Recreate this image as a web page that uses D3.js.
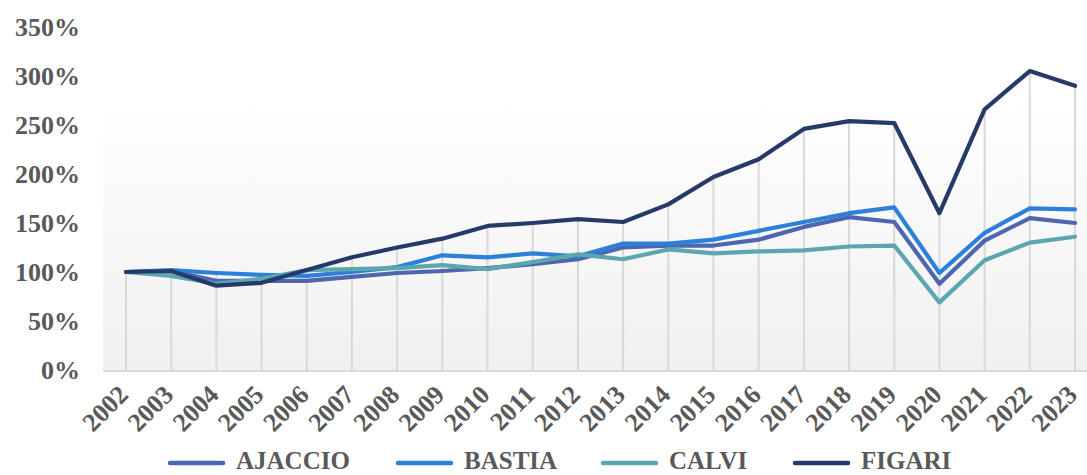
<!DOCTYPE html>
<html><head><meta charset="utf-8">
<script src="https://cdn.jsdelivr.net/npm/d3@7"></script>
<style>body{margin:0;background:#fff;}svg{display:block;}</style>
</head><body><svg id="c" width="1087" height="475"></svg>
<script>
const years = ["2002","2003","2004","2005","2006","2007","2008","2009","2010","2011","2012","2013","2014","2015","2016","2017","2018","2019","2020","2021","2022","2023"];
const ajaccio = [100,101,91,91,91,95,99,101,104,108,113,125,127,127,133,146,156,151,88,132,155,150];
const bastia  = [100,102,99,97,96,100,105,117,115,119,116,129,129,133,142,151,160,166,99,140,165,164];
const calvi   = [100,96,88,93,102,103,104,107,103,110,118,113,123,119,121,122,126,127,69,112,130,136];
const figari  = [100,101,86,89,102,115,125,134,147,150,154,151,169,197,215,246,254,252,160,266,305,290];
const yTicks = [0,50,100,150,200,250,300,350];
const seriesNames = ["AJACCIO","BASTIA","CALVI","FIGARI"];
const seriesColors = ["#4E66B0","#2B80D9","#5BA6AF","#263A6A"];
const series = [ajaccio, bastia, calvi, figari];

const svg = d3.select("#c");
const x = d3.scalePoint().domain(years).range([126, 1075]);
const y = d3.scaleLinear().domain([0,350]).range([370, 27]);
const font = "'Liberation Serif','Times New Roman',serif";
const txt = "#595959";

const defs = svg.append("defs");
const grad = defs.append("linearGradient").attr("id","bg").attr("x1",0).attr("y1",0).attr("x2",0).attr("y2",1);
grad.append("stop").attr("offset","0%").attr("stop-color","#ffffff");
grad.append("stop").attr("offset","100%").attr("stop-color","#f0f0f0");
svg.append("rect").attr("x",103).attr("y",100).attr("width",984).attr("height",270).attr("fill","url(#bg)");

// drop lines
years.forEach((yr,i)=>{
  const mx = d3.max(series, s=>s[i]);
  svg.append("line").attr("x1",x(yr)).attr("x2",x(yr)).attr("y1",y(mx)).attr("y2",y(0))
    .attr("stroke","#d9d9d9").attr("stroke-width",2);
});
// axis line
svg.append("line").attr("x1",103).attr("x2",1087).attr("y1",y(0)+1).attr("y2",y(0)+1).attr("stroke","#d9d9d9").attr("stroke-width",2);

// y labels
const ya = svg.append("g").attr("transform","translate(80,0)").call(d3.axisLeft(y).tickValues(yTicks).tickFormat(d=>d+"%").tickSize(0).tickPadding(0));
ya.select(".domain").remove();
ya.selectAll("text").attr("font-family",font).attr("font-weight","bold").attr("font-size","26px").attr("fill",txt);

// x labels
const xa = svg.append("g").attr("transform",`translate(0,${y(0)})`).call(d3.axisBottom(x).tickSize(0).tickPadding(0));
xa.select(".domain").remove();
xa.selectAll("text").attr("font-family",font).attr("font-weight","bold").attr("font-size","26px").attr("fill",txt)
  .attr("text-anchor","end").attr("dy",null).attr("y",0).attr("x",0)
  .attr("transform","translate(-1,22) rotate(-45)").attr("dominant-baseline","middle");

// lines
const line = d3.line().x((d,i)=>x(years[i])).y(d=>y(d));
series.forEach((s,k)=>{
  svg.append("path").datum(s).attr("d",line).attr("fill","none").attr("stroke",seriesColors[k])
    .attr("stroke-width",4.2).attr("stroke-linejoin","round").attr("stroke-linecap","round");
});

// legend
const legX = [169, 397, 602, 794];
seriesNames.forEach((n,k)=>{
  const g = svg.append("g").attr("transform",`translate(${legX[k]},463)`);
  g.append("line").attr("x1",1).attr("x2",54).attr("y1",0).attr("y2",0).attr("stroke",seriesColors[k]).attr("stroke-width",4.5).attr("stroke-linecap","round");
  g.append("text").attr("x",67).attr("y",6).text(n)
    .attr("font-family",font).attr("font-weight","bold").attr("font-size","25px").attr("fill",txt);
});
</script></body></html>
